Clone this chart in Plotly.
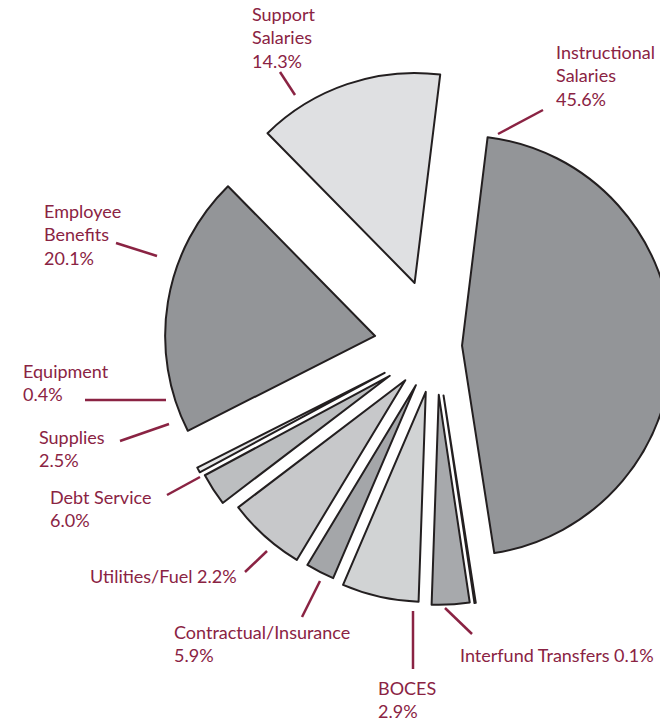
import plotly.graph_objects as go

# ---- data ----
categories = ["Instructional Salaries", "Interfund Transfers", "BOCES",
              "Contractual/Insurance", "Utilities/Fuel", "Debt Service",
              "Supplies", "Equipment", "Employee Benefits", "Support Salaries"]
values = [45.6, 0.1, 2.9, 5.9, 2.2, 6.0, 2.5, 0.4, 20.1, 14.3]
display_names = ["Instructional<br>Salaries", "Interfund Transfers", "BOCES",
                 "Contractual/Insurance", "Utilities/Fuel", "Debt Service",
                 "Supplies", "Equipment", "Employee<br>Benefits", "Support<br>Salaries"]
value_sep = ["<br>", " ", "<br>", "<br>", " ", "<br>", "<br>", "<br>", "<br>", "<br>"]

# ---- styles / layout ----
colors = ["#939598", "#e6e7e8", "#a7a9ac", "#d1d3d4", "#a4a6a9",
          "#c7c8ca", "#bcbec0", "#e6e7e8", "#939598", "#dfe0e2"]
pulls = [0.124, 0.238, 0.233, 0.224, 0.21, 0.219, 0.262, 0.276, 0.294, 0.317]
ROTATION = 7
TEXT_COLOR = "#8a2343"
W, H = 720, 722

# label top-left positions (px) and leader lines (px)
label_pos = [(554, 39), (458, 642), (376, 675), (172, 619), (88, 563),
             (48, 484), (37, 424), (21, 358), (42, 198), (250, 1)]
leaders = [((543, 110), (498, 134)), ((445, 608), (472, 634)),
           ((413, 611), (413, 669)), ((320, 581), (302, 617)),
           ((267, 551), (245, 572)), ((200, 477), (167, 495)),
           ((169, 424), (120, 441)), ((166, 400), (85, 400)),
           ((157, 256), (116, 243)), ((295, 95), (280, 72))]


def px(x):
    return x / W


def py(y):
    return 1 - y / H


# pie box: centre (436, 346), side 553
cx, cy, side = 436, 346, 553
dom_x = [px(cx - side / 2), px(cx + side / 2)]
dom_y = [py(cy + side / 2), py(cy - side / 2)]

fig = go.Figure(go.Pie(
    labels=categories, values=values, sort=False, direction="clockwise",
    rotation=ROTATION, pull=pulls, textinfo="none", hoverinfo="label+percent",
    marker=dict(colors=colors, line=dict(color="#231f20", width=2)),
    domain=dict(x=dom_x, y=dom_y), showlegend=False,
))

annotations = []
for name, sep, v, (lx, ly) in zip(display_names, value_sep, values, label_pos):
    annotations.append(dict(
        x=px(lx), y=py(ly), xref="paper", yref="paper",
        xanchor="left", yanchor="top", align="left", showarrow=False,
        text=f"{name}{sep}{v:.1f}%",
        font=dict(family="Lato", size=18, color=TEXT_COLOR),
    ))

shapes = []
for (x0, y0), (x1, y1) in leaders:
    shapes.append(dict(type="line", xref="paper", yref="paper",
                       x0=px(x0), y0=py(y0), x1=px(x1), y1=py(y1),
                       line=dict(color=TEXT_COLOR, width=2.5)))

fig.update_layout(
    width=W, height=H, autosize=False,
    margin=dict(l=0, r=0, t=0, b=0),
    paper_bgcolor="white", plot_bgcolor="white",
    annotations=annotations, shapes=shapes,
)

fig.write_html("out.html", post_script=(
    "document.documentElement.style.overflow='hidden';"
    "document.body.style.overflow='hidden';document.body.style.margin='0';"
))
